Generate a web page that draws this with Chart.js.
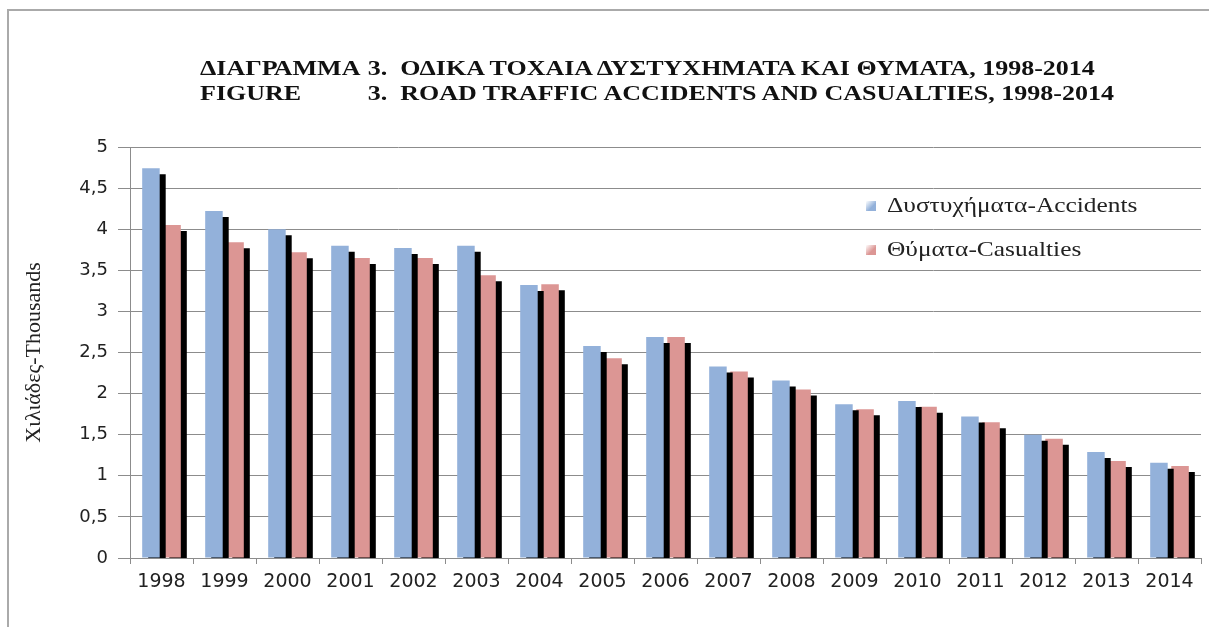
<!DOCTYPE html>
<html lang="el">
<head>
    <meta charset="UTF-8">
    <title>Road traffic accidents and casualties, 1998-2014</title>
    <script src="https://cdn.jsdelivr.net/npm/chart.js"></script>
    <style>
        html, body {
            margin: 0;
            padding: 0;
            background: #fff;
        }
        #wrap {
            position: relative;
            width: 1209px;
            height: 627px;
            overflow: hidden;
        }
        #frame {
            position: absolute;
            left: 7px;
            top: 9px;
            width: 1220px;
            height: 640px;
            border-left: 2px solid #aaaaaa;
            border-top: 2px solid #aaaaaa;
        }
        #chartBox {
            position: absolute;
            left: 0;
            top: 0;
            width: 1209px;
            height: 627px;
        }
        /* the original figure text is stretched sideways */
        #title {
            position: absolute;
            left: 200px;
            top: 56px;
            font-family: "Liberation Serif", serif;
            font-weight: bold;
            font-size: 20px;
            line-height: 25px;
            color: #111;
            white-space: pre;
            transform: scaleX(1.3);
            transform-origin: 0 0;
        }
        #title span.c1 {
            display: inline-block;
            width: 129px;
        }
        #legend {
            position: absolute;
            left: 866px;
            top: 192px;
            font-family: "Liberation Serif", serif;
            font-size: 21px;
            color: #222;
        }
        #legend div {
            height: 44px;
            line-height: 26px;
            white-space: nowrap;
        }
        #legend i {
            display: inline-block;
            width: 10px;
            height: 10px;
            margin-right: 11px;
            vertical-align: 1px;
        }
        #legend span {
            display: inline-block;
            transform: scaleX(1.21);
            transform-origin: 0 50%;
        }
    </style>
</head>
<body>
<div id="wrap">
    <div id="frame"></div>
    <div id="chartBox"><canvas id="roadChart"></canvas></div>
    <div id="title"><span class="c1">ΔΙΑΓΡΑΜΜΑ</span>3.  ΟΔΙΚΑ ΤΟΧΑΙΑ ΔΥΣΤΥΧΗΜΑΤΑ ΚΑΙ ΘΥΜΑΤΑ, 1998-2014
<span class="c1">FIGURE</span>3.  ROAD TRAFFIC ACCIDENTS AND CASUALTIES, 1998-2014</div>
    <div id="legend"></div>
</div>

<script>
    // Years and values (thousands)
    const years = ['1998', '1999', '2000', '2001', '2002', '2003', '2004', '2005', '2006',
                   '2007', '2008', '2009', '2010', '2011', '2012', '2013', '2014'];
    const accidents = [4.74, 4.22, 4.00, 3.80, 3.77, 3.80, 3.32, 2.58, 2.69,
                       2.33, 2.16, 1.87, 1.91, 1.72, 1.50, 1.29, 1.16];
    const casualties = [4.05, 3.84, 3.72, 3.65, 3.65, 3.44, 3.33, 2.43, 2.69,
                        2.27, 2.05, 1.81, 1.84, 1.65, 1.45, 1.18, 1.12];
    const yTicks = [0, 0.5, 1, 1.5, 2, 2.5, 3, 3.5, 4, 4.5, 5];

    const blue = '#93b1da';
    const pink = '#dc9694';

    // black offset shadow behind the bars (the 3D look of the original)
    const barShadow = {
        id: 'barShadow',
        beforeDatasetsDraw(chart) {
            const c = chart.ctx;
            c.save();
            c.shadowColor = '#000';
            c.shadowBlur = 0;
            c.shadowOffsetX = 6;
            c.shadowOffsetY = 6;
        },
        afterDatasetsDraw(chart) {
            chart.ctx.restore();
        }
    };

    const ctx = document.getElementById('roadChart').getContext('2d');
    const roadChart = new Chart(ctx, {
        type: 'bar',
        data: {
            labels: years,
            datasets: [
                {
                    label: 'Δυστυχήματα-Accidents',
                    data: accidents,
                    backgroundColor: blue,
                    categoryPercentage: 0.67,
                    barPercentage: 0.83
                },
                {
                    label: 'Θύματα-Casualties',
                    data: casualties,
                    backgroundColor: pink,
                    categoryPercentage: 0.67,
                    barPercentage: 0.83
                }
            ]
        },
        options: {
            responsive: true,
            maintainAspectRatio: false,
            animation: false,
            layout: {
                padding: { left: 10, right: 8, top: 147, bottom: 19 }
            },
            scales: {
                x: {
                    grid: {
                        display: true,
                        drawOnChartArea: false,
                        offset: true,
                        tickLength: 6,
                        color: '#8c8c8c'
                    },
                    border: { color: '#8c8c8c' },
                    ticks: {
                        color: '#222',
                        padding: 7,
                        maxRotation: 0,
                        font: { family: 'DejaVu Sans', size: 19 }
                    },
                    afterFit(scale) { scale.height = 50; }
                },
                y: {
                    min: 0,
                    max: 5,
                    afterBuildTicks(scale) {
                        scale.ticks = yTicks.map(v => ({ value: v }));
                    },
                    grid: {
                        color: '#8c8c8c',
                        tickLength: 12
                    },
                    border: { color: '#8c8c8c' },
                    ticks: {
                        color: '#222',
                        padding: 10,
                        font: { family: 'DejaVu Sans', size: 18 },
                        callback: v => String(v).replace('.', ',')
                    },
                    title: {
                        display: true,
                        text: 'Χιλιάδες-Thousands',
                        color: '#222',
                        padding: { top: 11, bottom: 0 },
                        font: { family: 'Liberation Serif', size: 22 }
                    },
                    afterFit(scale) { scale.width = 120; }
                }
            },
            plugins: {
                legend: { display: false },
                title: { display: false },
                tooltip: { enabled: false }
            }
        },
        plugins: [barShadow]
    });

    // legend in the plot area, built from the datasets
    const legendEl = document.getElementById('legend');
    roadChart.data.datasets.forEach(ds => {
        const row = document.createElement('div');
        const box = document.createElement('i');
        box.style.background = 'linear-gradient(135deg, #fff 0%, ' + ds.backgroundColor + ' 60%)';
        const txt = document.createElement('span');
        txt.textContent = ds.label;
        row.appendChild(box);
        row.appendChild(txt);
        legendEl.appendChild(row);
    });
</script>
</body>
</html>
